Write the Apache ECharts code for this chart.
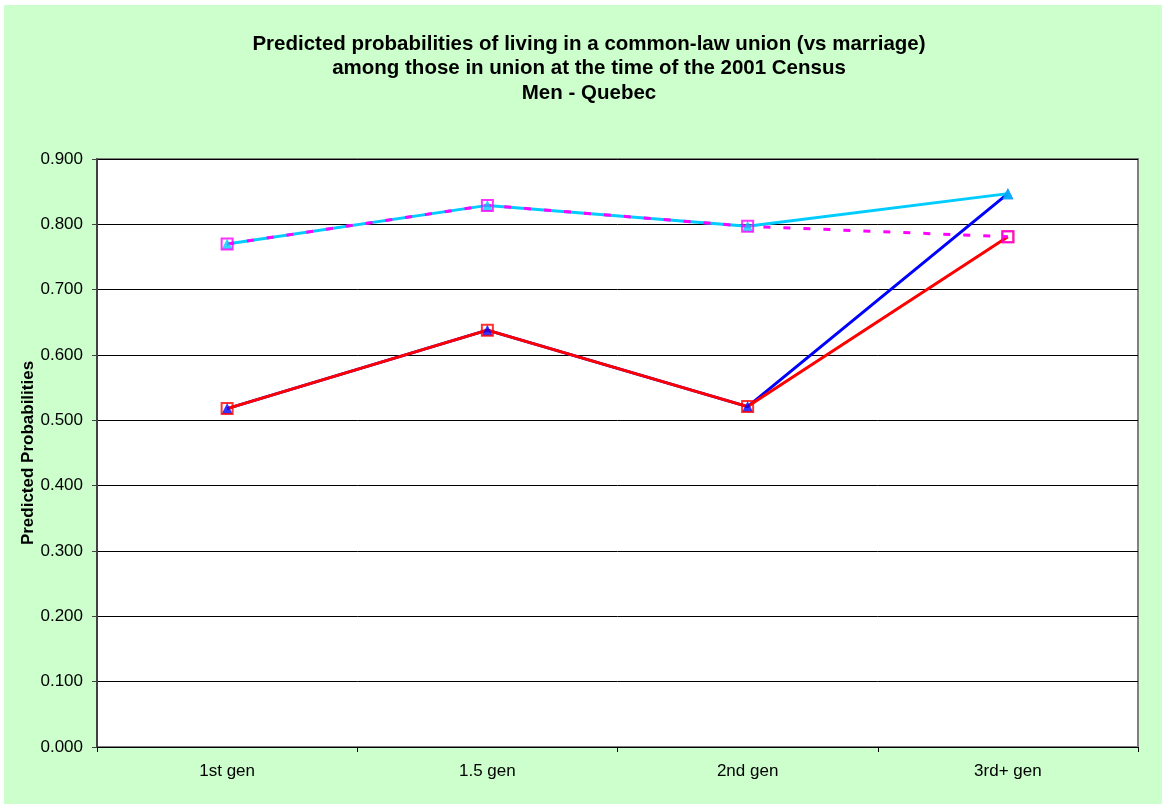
<!DOCTYPE html>
<html>
<head>
<meta charset="utf-8">
<script src="https://cdn.jsdelivr.net/npm/echarts@6/dist/echarts.min.js"></script>
<style>
  html, body { margin: 0; padding: 0; background: #ffffff; }
  #chart { position: absolute; left: 4px; top: 5px; width: 1158px; height: 799px; background: #CCFFCC; }
</style>
</head>
<body>
<div id="chart"></div>
<script>
// Generation categories
const categories = ['1st gen', '1.5 gen', '2nd gen', '3rd+ gen'];
const yTicks = [0, 0.1, 0.2, 0.3, 0.4, 0.5, 0.6, 0.7, 0.8, 0.9];

// Predicted probabilities per model
const cyanSeries    = [0.770, 0.829, 0.797, 0.847];
const magentaSeries = [0.770, 0.829, 0.797, 0.781];
const blueSeries    = [0.518, 0.638, 0.521, 0.847];
const redSeries     = [0.518, 0.638, 0.521, 0.781];

const FONT = '"Liberation Sans", Arial, sans-serif';

function lineSeries(data, color, dashed) {
  return {
    type: 'line',
    data: data,
    showSymbol: false,
    symbol: 'none',
    z: 2,
    silent: true,
    animation: false,
    lineStyle: { color: color, width: 3, type: dashed ? [7, 13] : 'solid' }
  };
}
function markerSeries(data, shape, color) {
  const tri = shape === 'triangle';
  return {
    type: 'scatter',
    data: data,
    symbol: tri ? 'triangle' : 'rect',
    symbolSize: [11, 11],
    z: 5,
    silent: true,
    animation: false,
    itemStyle: tri
      ? { color: color, borderWidth: 0 }
      : { color: 'rgba(0,0,0,0)', borderColor: color, borderWidth: 2 }
  };
}

const chart = echarts.init(document.getElementById('chart'), null, { renderer: 'canvas' });
chart.setOption({
  backgroundColor: 'transparent',
  animation: false,
  title: {
    text: 'Predicted probabilities of living in a common-law union (vs marriage)\namong those in union at the time of the 2001 Census\nMen - Quebec',
    left: 580,
    top: 22,
    textAlign: 'center',
    textStyle: { fontFamily: FONT, fontSize: 20.5, fontWeight: 'bold', color: '#000', lineHeight: 24.5 }
  },
  grid: {
    left: 93, right: 24, top: 154, bottom: 57,
    show: true, backgroundColor: '#ffffff', borderColor: '#808080', borderWidth: 2
  },
  xAxis: {
    type: 'category',
    data: categories,
    boundaryGap: true,
    axisLine: { lineStyle: { color: '#000', width: 1 } },
    axisTick: { show: true, length: 5, inside: false, lineStyle: { color: '#000' } },
    axisLabel: { fontFamily: FONT, fontSize: 17, color: '#000', margin: 16 },
    splitLine: { show: false }
  },
  yAxis: {
    type: 'value',
    min: 0, max: 0.9, interval: 0.1,
    name: 'Predicted Probabilities',
    nameLocation: 'middle',
    nameGap: 60,
    nameMoveOverlap: false,
    nameRotate: 90,
    nameTextStyle: { fontFamily: FONT, fontSize: 17, fontWeight: 'bold', color: '#000' },
    axisLine: { show: true, lineStyle: { color: '#404040', width: 2 } },
    axisTick: { show: true, length: 5, lineStyle: { color: '#404040' } },
    axisLabel: {
      fontFamily: FONT, fontSize: 17, color: '#000', margin: 14,
      formatter: v => v.toFixed(3)
    },
    splitLine: { show: true, lineStyle: { color: '#000', width: 1 } }
  },
  series: [
    lineSeries(blueSeries, '#0000FF', false),
    lineSeries(redSeries, '#FF0000', false),
    lineSeries(cyanSeries, '#00CCFF', false),
    lineSeries(magentaSeries, '#FF00FF', true),
    markerSeries(blueSeries, 'triangle', '#0000FF'),
    markerSeries(redSeries, 'rect', '#FF0000'),
    markerSeries(cyanSeries, 'triangle', '#00CCFF'),
    markerSeries(magentaSeries, 'rect', '#FF00FF')
  ]
});
</script>
</body>
</html>
